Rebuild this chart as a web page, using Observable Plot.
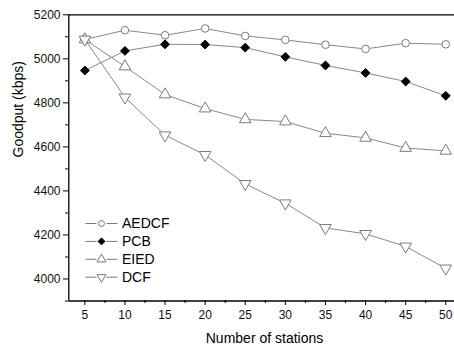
<!DOCTYPE html>
<html>
<head>
<meta charset="utf-8">
<script src="https://cdn.jsdelivr.net/npm/d3@7"></script>
<script src="https://cdn.jsdelivr.net/npm/@observablehq/plot@0.6"></script>
<style>
  html, body { margin: 0; padding: 0; background: #fff; }
  svg { display: block; }
</style>
</head>
<body>
<div id="chart"></div>
<script>
const stations = [5, 10, 15, 20, 25, 30, 35, 40, 45, 50];
const aedcf = [5088, 5130, 5107, 5138, 5104, 5086, 5064, 5045, 5071, 5066];
const pcb   = [4947, 5036, 5066, 5065, 5051, 5009, 4970, 4936, 4897, 4832];
const eied  = [5088, 4965, 4838, 4774, 4725, 4715, 4662, 4641, 4595, 4582];
const dcf   = [5088, 4825, 4653, 4564, 4432, 4344, 4232, 4205, 4148, 4048];
const seriesNames = ["AEDCF", "PCB", "EIED", "DCF"];
const xTicks = [5, 10, 15, 20, 25, 30, 35, 40, 45, 50];
const xMinor = [7.5, 12.5, 17.5, 22.5, 27.5, 32.5, 37.5, 42.5, 47.5];
const yTicks = [4000, 4200, 4400, 4600, 4800, 5000, 5200];
const yMinor = [3900, 4100, 4300, 4500, 4700, 4900, 5100];

const lineColor = "#7a7a7a";
const styles = {
  AEDCF: {symbol: "circle", fill: "white", stroke: lineColor, r: 3.8, rotate: 0},
  PCB:   {symbol: "diamond2", fill: "black", stroke: "black", r: 4.0, rotate: 0},
  EIED:  {symbol: "triangle", fill: "white", stroke: lineColor, r: 4.3, rotate: 0},
  DCF:   {symbol: "triangle", fill: "white", stroke: lineColor, r: 4.3, rotate: 180}
};
const valuesBy = {AEDCF: aedcf, PCB: pcb, EIED: eied, DCF: dcf};

const rows = seriesNames.flatMap(s => stations.map((x, i) => ({series: s, x, y: valuesBy[s][i]})));

// custom legend line symbol (horizontal segments on either side of the marker)
const legendLine = {
  draw(ctx) {
    ctx.moveTo(-16, 0); ctx.lineTo(-5, 0);
    ctx.moveTo(5, 0); ctx.lineTo(16, 0);
  }
};

const marks = [];
// frame lines (left, top, bottom)
marks.push(Plot.ruleX([3], {y1: 3900, y2: 5200, stroke: "black", strokeWidth: 1.3}));
marks.push(Plot.ruleY([5200], {x1: 3, x2: 52, stroke: "black", strokeWidth: 1.3}));
marks.push(Plot.ruleY([3900], {x1: 3, x2: 52, stroke: "black", strokeWidth: 1.3}));

// axes
marks.push(Plot.axisX(xTicks, {tickSize: 5, tickPadding: 5, fontSize: 12, label: null, stroke: "black", fill: "#111", tickFormat: "d"}));
marks.push(Plot.axisX(xMinor, {tickSize: 3, text: null, label: null, stroke: "black"}));
marks.push(Plot.axisY(yTicks, {tickSize: 5, tickPadding: 3, fontSize: 12, label: null, stroke: "black", fill: "#111", tickFormat: "d"}));
marks.push(Plot.axisY(yMinor, {tickSize: 3, text: null, label: null, stroke: "black"}));

// lines and markers
for (const s of seriesNames) {
  const d = rows.filter(r => r.series === s);
  const st = styles[s];
  marks.push(Plot.line(d, {x: "x", y: "y", stroke: lineColor, strokeWidth: 0.9}));
  marks.push(Plot.dot(d, {x: "x", y: "y", symbol: () => st.symbol, r: st.r, fill: st.fill, stroke: st.stroke, strokeWidth: 1, rotate: st.rotate}));
}

// legend
seriesNames.forEach((s, i) => {
  const st = styles[s];
  const dy = 209 + i * 17.9;
  marks.push(Plot.dot([s], {frameAnchor: "top-left", dx: 33, dy, symbol: () => legendLine, r: 5, fill: "none", stroke: lineColor, strokeWidth: 1}));
  marks.push(Plot.dot([s], {frameAnchor: "top-left", dx: 33, dy, symbol: () => st.symbol, r: st.r * 0.78, fill: st.fill, stroke: st.stroke, strokeWidth: 1, rotate: st.rotate}));
  marks.push(Plot.text([s], {text: d => d, frameAnchor: "top-left", dx: 53.5, dy, textAnchor: "start", lineAnchor: "middle", fontSize: 14, fill: "black"}));
});

marks.push(Plot.text(["Number of stations"], {text: d => d, frameAnchor: "bottom", dx: 3, dy: 38, lineAnchor: "middle", fontSize: 14, fill: "black"}));
marks.push(Plot.text(["Goodput (kbps)"], {text: d => d, frameAnchor: "left", dx: -50, rotate: -90, lineAnchor: "middle", fontSize: 14, fill: "black"}));

const plot = Plot.plot({
  width: 454,
  height: 347,
  marginLeft: 68,
  marginRight: 0,
  marginTop: 14,
  marginBottom: 47,
  style: {fontFamily: "Liberation Sans, Arial, sans-serif", background: "white", overflow: "hidden"},
  x: {domain: [3, 52], range: [68.3, 461.3]},
  y: {domain: [3900, 5200], range: [300.5, 14.3]},
  marks
});
document.getElementById("chart").appendChild(plot);
</script>
</body>
</html>
